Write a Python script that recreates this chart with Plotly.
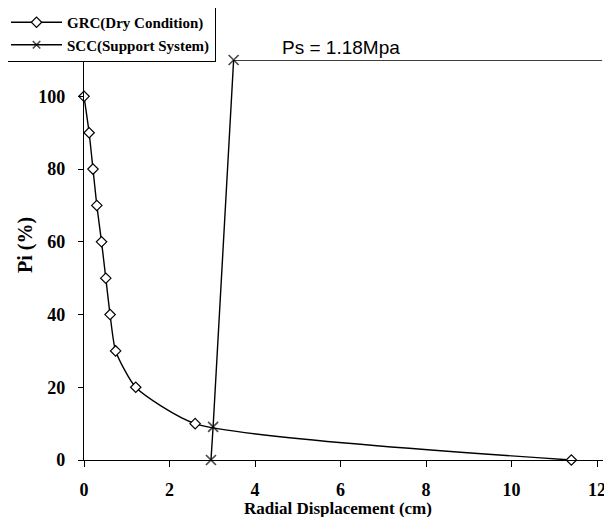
import plotly.graph_objects as go

# GRC (Dry Condition) data
grc_x = [0.0, 0.12, 0.21, 0.30, 0.41, 0.51, 0.61, 0.74, 1.21, 2.60, 11.40]
grc_y = [100, 90, 80, 70, 60, 50, 40, 30, 20, 10, 0]

# SCC (Support System) data
scc_x = [2.97, 3.02, 3.50, 12.12]
scc_y = [0, 9.1, 110, 110]
scc_marker_sizes = [10, 10, 10, 0]

x_ticks = [0, 2, 4, 6, 8, 10, 12]
y_ticks = [0, 20, 40, 60, 80, 100]

serif = "Liberation Serif"

fig = go.Figure()

fig.add_trace(go.Scatter(
    x=grc_x, y=grc_y, mode="lines+markers", name="GRC(Dry Condition)",
    line=dict(color="black", width=1.4, shape="spline", smoothing=0.6),
    marker=dict(symbol="diamond", size=8, color="white",
                line=dict(color="black", width=1.2)),
    cliponaxis=False,
))

fig.add_trace(go.Scatter(
    x=scc_x, y=scc_y, mode="lines+markers", name="SCC(Support System)",
    line=dict(color="black", width=1.4),
    marker=dict(symbol="x-thin-open", size=scc_marker_sizes, color="black",
                line=dict(color="black", width=1.7)),
    cliponaxis=False,
))

fig.add_annotation(
    x=6.02, y=110, xref="x", yref="y", text="Ps = 1.18Mpa",
    showarrow=False, yanchor="bottom", yshift=0,
    font=dict(family="Liberation Sans", size=19, color="black"),
)

# axis titles as annotations for exact placement
fig.add_annotation(
    x=0.489, y=0, xref="paper", yref="paper", text="Radial Displacement (cm)",
    showarrow=False, xanchor="center", yanchor="middle", yshift=-48,
    font=dict(family=serif, size=17, color="black", weight="bold"),
)
fig.add_annotation(
    x=0, y=0.5375, xref="paper", yref="paper", text="Pi (%)", textangle=-90,
    showarrow=False, xanchor="center", yanchor="middle", xshift=-59,
    font=dict(family=serif, size=20, color="black", weight="bold"),
)

fig.update_layout(
    width=604, height=509,
    margin=dict(l=76, r=9, t=52, b=57, autoexpand=False),
    paper_bgcolor="white", plot_bgcolor="white",
    showlegend=True,
    legend=dict(
        xref="paper", yref="paper",
        x=-0.1522, y=1.1375, xanchor="left", yanchor="top",
        bordercolor="black", borderwidth=1, bgcolor="white",
        font=dict(family=serif, size=15, color="black", weight="bold"),
        itemwidth=51, tracegroupgap=0,
    ),
    xaxis=dict(
        range=[0, 12.14], tickvals=x_ticks, ticktext=[str(v) for v in x_ticks],
        showgrid=False, zeroline=False, showline=True, linecolor="black", linewidth=1.2,
        ticks="outside", ticklen=6, tickcolor="black",
        tickfont=dict(family=serif, size=18, color="black", weight="bold"),
        ticklabelstandoff=7, automargin=False, ticklabeloverflow="allow",
    ),
    yaxis=dict(
        range=[0, 110], tickvals=y_ticks, ticktext=[str(v) for v in y_ticks],
        showgrid=False, zeroline=False, showline=True, linecolor="black", linewidth=1.2,
        ticks="outside", ticklen=5, tickcolor="black",
        tickfont=dict(family=serif, size=18, color="black", weight="bold"),
        ticklabelstandoff=9, automargin=False,
    ),
)

fig.write_html("out.html")
